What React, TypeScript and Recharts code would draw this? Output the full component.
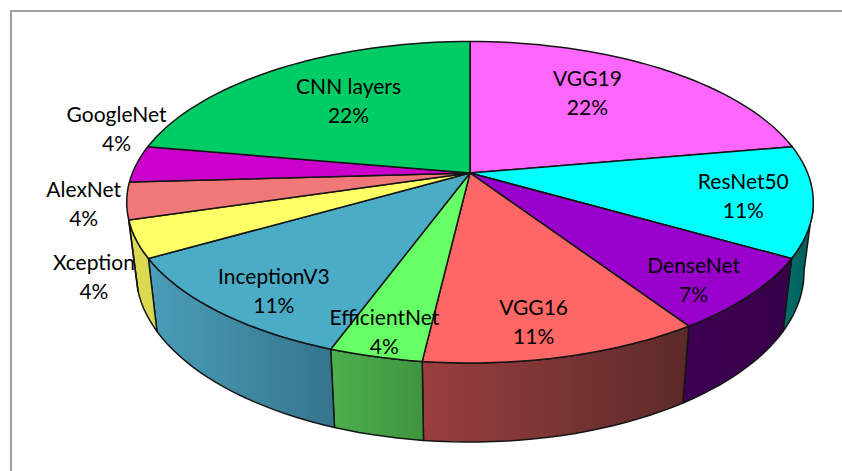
import { PieChart, Pie } from "recharts";

const models = ["VGG19", "ResNet50", "DenseNet", "VGG16", "EfficientNet", "InceptionV3", "Xception", "AlexNet", "GoogleNet", "CNN layers"];
const counts = [6, 3, 2, 3, 1, 3, 1, 1, 1, 6];
const topColors = ["#FF66FF", "#00FFFF", "#9900CC", "#FF6666", "#66FF66", "#4BACC6", "#FFFF66", "#F07878", "#CC00CC", "#00CC66"];
const wallLeft = ["#993D99", "#026E6A", "#3F0054", "#9A3E3E", "#4DB04D", "#4A9DB8", "#DEDE55", "#905050", "#7A007A", "#007A40"];
const wallRight = ["#662966", "#015C58", "#360048", "#5C2A2A", "#3F943F", "#35748C", "#D6D650", "#905050", "#7A007A", "#007A40"];

// label nudges from the rim point at each slice's middle angle
const labelDx = [-73, -70, -57, -31, 9, 56, -42, -43, -20, 69];
const labelDy = [25, -4, -14, -34, -24, -20, 38, 4, -35, 33];

const chartData = models.map((name, i) => ({ name, value: counts[i] }));

const CX = 470;
const CY = 173;
const RX = 337.6;
const RY = 155.4;
const TILT = 0.182;

// perspective view of the top disc; deg runs clockwise from 12 o'clock
function rim(deg: number, frac = 1) {
  const a = (deg * Math.PI) / 180;
  const d = 1 + frac * TILT * Math.cos(a);
  return {
    x: CX + (frac * RX * Math.sin(a)) / d,
    y: CY - (frac * RY * Math.cos(a)) / d,
  };
}

function base(p: { x: number; y: number }) {
  return { x: CX + (p.x - CX) * 0.973, y: p.y * 1.058 + 58 };
}

function arc(from: number, to: number) {
  const pts = [];
  const n = Math.max(2, Math.ceil(Math.abs(to - from) / 2));
  for (let i = 0; i <= n; i++) pts.push(rim(from + ((to - from) * i) / n));
  return pts;
}

const toPath = (pts: { x: number; y: number }[]) =>
  pts.map((p, i) => `${i ? "L" : "M"}${p.x.toFixed(1)} ${p.y.toFixed(1)}`).join("");

function TopSlice(props: any) {
  const from = 90 - props.startAngle;
  const to = 90 - props.endAngle;
  const d = `M${CX} ${CY}` + toPath(arc(from, to)).replace("M", "L") + "Z";
  return <path d={d} fill={topColors[props.index]} stroke="#151515" strokeWidth={1.5} strokeLinejoin="round" />;
}

function WallSlice(props: any) {
  // only the front of the drum shows
  const from = Math.max(90 - props.startAngle, 100);
  const to = Math.min(90 - props.endAngle, 253.4);
  if (to <= from) return null;
  const top = arc(from, to);
  const bottom = top.map(base).reverse();
  const id = `wall-${props.index}`;
  return (
    <g>
      <defs>
        <linearGradient id={id} x1="0" y1="0" x2="1" y2="0">
          <stop offset="0" stopColor={wallLeft[props.index]} />
          <stop offset="1" stopColor={wallRight[props.index]} />
        </linearGradient>
      </defs>
      <path d={toPath([...top, ...bottom]) + "Z"} fill={`url(#${id})`} stroke="#151515" strokeWidth={1.5} strokeLinejoin="round" />
    </g>
  );
}

function SliceLabel(props: any) {
  const p = rim(90 - props.midAngle);
  const x = p.x + labelDx[props.index];
  const y = p.y + labelDy[props.index];
  return (
    <text x={x} y={y} textAnchor="middle" fontFamily="Lato" fontSize={21} fill="#000">
      <tspan x={x} dy={-7.5}>{props.name}</tspan>
      <tspan x={x} dy={29}>{Math.round(props.percent * 100)}%</tspan>
    </text>
  );
}

export default function App() {
  return (
    <div style={{ position: "absolute", left: 0, top: 0, width: 842, height: 471, background: "#fff", overflow: "hidden" }}>
      <div style={{ position: "absolute", left: 10, top: 10, width: 900, height: 600, borderTop: "2px solid #a0a0a0", borderLeft: "2px solid #a0a0a0" }} />
      <div style={{ position: "absolute", left: 0, top: 0 }}>
        <PieChart width={842} height={471} margin={{ top: 0, right: 0, bottom: 0, left: 0 }}>
          <Pie
            data={chartData}
            dataKey="value"
            nameKey="name"
            cx={CX}
            cy={CY}
            outerRadius={150}
            startAngle={90}
            endAngle={-270}
            paddingAngle={0}
            shape={WallSlice}
            isAnimationActive={false}
            label={false}
            labelLine={false}
          />
          <Pie
            data={chartData}
            dataKey="value"
            nameKey="name"
            cx={CX}
            cy={CY}
            outerRadius={150}
            startAngle={90}
            endAngle={-270}
            paddingAngle={0}
            shape={TopSlice}
            isAnimationActive={false}
            label={SliceLabel}
            labelLine={false}
          />
        </PieChart>
      </div>
    </div>
  );
}
